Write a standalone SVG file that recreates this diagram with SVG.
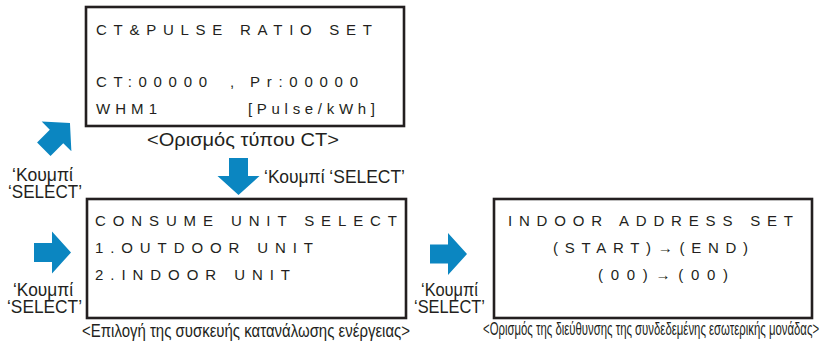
<svg xmlns="http://www.w3.org/2000/svg" width="826" height="346" viewBox="0 0 826 346">
<defs>
<style>
.box{fill:#fff;stroke:#231f20;stroke-width:2.6}
.lcd{font-family:"Liberation Sans",Arial,sans-serif;font-size:15px;fill:#231f20}
.lbl{font-family:"Liberation Sans",Arial,sans-serif;font-size:18px;fill:#231f20}
.cap{font-family:"Liberation Sans",Arial,sans-serif;font-size:18.5px;fill:#231f20}
.arr{fill:#0b86c1}
</style>
<path id="arrow" d="M0,-9.5 H18 V-21 L37,0 L18,21 V9.5 H0 Z"/>
</defs>
<rect width="826" height="346" fill="#fff"/>

<g id="ct-pulse-ratio">
<rect class="box" x="86" y="7" width="318" height="119"/>
<text class="lcd" x="96" y="35" textLength="276" lengthAdjust="spacing">CT&amp;PULSE RATIO SET</text>
<text class="lcd" x="96" y="87" textLength="111" lengthAdjust="spacing">CT:00000</text>
<text class="lcd" x="230" y="87">,</text>
<text class="lcd" x="250" y="87" textLength="108" lengthAdjust="spacing">Pr:00000</text>
<text class="lcd" x="96" y="114" textLength="61" lengthAdjust="spacing">WHM1</text>
<text class="lcd" x="248" y="114" textLength="127" lengthAdjust="spacing">[Pulse/kWh]</text>
<text class="cap" x="147" y="146" textLength="192" lengthAdjust="spacingAndGlyphs">&lt;Ορισμός τύπου CT&gt;</text>
</g>

<g id="consume-unit-select">
<rect class="box" x="87" y="199" width="319" height="119"/>
<text class="lcd" x="95" y="226" textLength="302" lengthAdjust="spacing">CONSUME UNIT SELECT</text>
<text class="lcd" x="95" y="253" textLength="218" lengthAdjust="spacing">1.OUTDOOR UNIT</text>
<text class="lcd" x="95" y="280" textLength="195" lengthAdjust="spacing">2.INDOOR UNIT</text>
<text class="cap" transform="translate(82,337) scale(0.8,1)" x="0" y="0" textLength="410" lengthAdjust="spacingAndGlyphs">&lt;Επιλογή της συσκευής κατανάλωσης ενέργειας&gt;</text>
</g>

<g id="indoor-address-set">
<rect class="box" x="494" y="199" width="318" height="119"/>
<text class="lcd" x="508" y="226" textLength="285" lengthAdjust="spacing">INDOOR ADDRESS SET</text>
<text class="lcd" x="553" y="253" textLength="195" lengthAdjust="spacing">(START)→(END)</text>
<text class="lcd" x="598" y="280" textLength="130" lengthAdjust="spacing">(00)→(00)</text>
<text class="cap" transform="translate(483,335) scale(0.65,1)" x="0" y="0" font-size="17.5" textLength="517" lengthAdjust="spacingAndGlyphs">&lt;Ορισμός της διεύθυνσης της συνδεδεμένης εσωτερικής μονάδας&gt;</text>
</g>

<g id="connectors">
<use href="#arrow" class="arr" transform="translate(43.8,149.2) rotate(-45)"/>
<use href="#arrow" class="arr" transform="translate(238.5,158) rotate(90)"/>
<use href="#arrow" class="arr" transform="translate(34,252.5)"/>
<use href="#arrow" class="arr" transform="translate(430,254)"/>
<text class="lbl"><tspan x="12" y="181" textLength="61" lengthAdjust="spacingAndGlyphs">‘Κουμπί</tspan><tspan x="8" y="198" textLength="74" lengthAdjust="spacingAndGlyphs">‘SELECT’</tspan></text>
<text class="lbl" x="264" y="183" textLength="141" lengthAdjust="spacingAndGlyphs">‘Κουμπί ‘SELECT’</text>
<text class="lbl"><tspan x="13" y="296" textLength="60" lengthAdjust="spacingAndGlyphs">‘Κουμπί</tspan><tspan x="7" y="313" textLength="75" lengthAdjust="spacingAndGlyphs">‘SELECT’</tspan></text>
<text class="lbl"><tspan x="421" y="296" textLength="57" lengthAdjust="spacingAndGlyphs">‘Κουμπί</tspan><tspan x="414" y="313" textLength="71" lengthAdjust="spacingAndGlyphs">‘SELECT’</tspan></text>
</g>
</svg>
